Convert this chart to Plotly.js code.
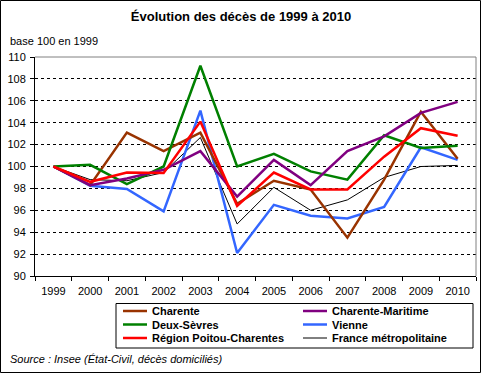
<!DOCTYPE html>
<html><head><meta charset="utf-8">
<script src="https://cdn.plot.ly/plotly-3.0.1.min.js"></script>
<style>body{margin:0;padding:0;background:#fff}#chart{width:481px;height:373px}</style>
</head><body><div id="chart"></div>
<script>
var years = ['1999','2000','2001','2002','2003','2004','2005','2006','2007','2008','2009','2010'];
var charente =        [100, 98.3, 103.1, 101.4, 103.1, 96.6, 98.7, 97.9, 93.5, 98.8, 105.0, 100.7];
var charenteMaritime = [100, 98.3, 98.9, 99.7, 101.4, 97.25, 100.6, 98.3, 101.4, 102.75, 104.9, 105.9];
var deuxSevres =      [100, 100.15, 98.4, 100.0, 109.2, 100.0, 101.15, 99.55, 98.8, 102.85, 101.7, 101.9];
var vienne =          [100, 98.25, 97.95, 95.9, 105.1, 92.1, 96.5, 95.5, 95.25, 96.3, 101.75, 100.6];
var region =          [100, 98.6, 99.45, 99.4, 104.1, 96.4, 99.45, 97.9, 97.9, 100.9, 103.5, 102.8];
var france =          [100, 98.8, 98.7, 99.45, 102.65, 94.75, 98.1, 96.0, 96.95, 99.0, 100.0, 100.1];

var seriesNames = ['Charente','Charente-Maritime','Deux-Sèvres','Vienne','Région Poitou-Charentes','France métropolitaine'];
var seriesValues = [charente, charenteMaritime, deuxSevres, vienne, region, france];
var seriesColors = ['#993300','#800080','#008000','#3366FF','#FF0000','#000000'];
var seriesWidths = [2.5, 2.5, 2.5, 2.5, 2.5, 1];

var W = 481, H = 373, L = 35, R = 5, T = 57, B = 97;
var PW = W - L - R, PH = H - T - B;
function px(x){ return (x - L) / PW; }
function py(y){ return (H - B - y) / PH; }

var drawOrder = [5, 3, 0, 2, 1, 4];
var traces = drawOrder.map(function(i){
  return {x: years, y: seriesValues[i], type: 'scatter', mode: 'lines', name: seriesNames[i],
    line: {color: seriesColors[i], width: seriesWidths[i]}, hoverinfo: 'x+y+name'};
});

var font = 'Arial, "Liberation Sans", sans-serif';
var shapes = [
  {type:'line', xref:'paper', yref:'paper', x0:0, x1:1, y0:1, y1:1, line:{color:'#808080', width:1}, layer:'above'},
  {type:'line', xref:'paper', yref:'paper', x0:1, x1:1, y0:0, y1:1, line:{color:'#808080', width:1}, layer:'above'},
  {type:'rect', xref:'paper', yref:'paper', x0:px(0.5), x1:px(480.5), y0:py(0.5), y1:py(372.5), line:{color:'#000', width:1}, layer:'above'},
  {type:'rect', xref:'paper', yref:'paper', x0:px(116), x1:px(473), y0:py(303.5), y1:py(348), line:{color:'#000', width:1}, layer:'above'}
];
var annotations = [
  {text:'base 100 en 1999', xref:'paper', yref:'paper', x:px(8), y:py(41), xanchor:'left', yanchor:'middle', showarrow:false, font:{family:font, size:11, color:'#000'}},
  {text:'<i>Source : Insee (État-Civil, décès domiciliés)</i>', xref:'paper', yref:'paper', x:px(8), y:py(359), xanchor:'left', yanchor:'middle', showarrow:false, font:{family:font, size:11, color:'#000'}}
];
var colX = [123, 303], rowY = [311, 324.5, 338];
seriesNames.forEach(function(n, i){
  var c = i % 2, r = Math.floor(i / 2);
  shapes.push({type:'line', xref:'paper', yref:'paper', x0:px(colX[c]), x1:px(colX[c]+24), y0:py(rowY[r]), y1:py(rowY[r]),
    line:{color:seriesColors[i], width:seriesWidths[i] > 1 ? 2.5 : 1}});
  annotations.push({text:'<b>' + n + '</b>', xref:'paper', yref:'paper', x:px(colX[c]+27), y:py(rowY[r]), xanchor:'left', yanchor:'middle',
    showarrow:false, font:{family:font, size:11, color:'#000'}});
});

var layout = {
  width: W, height: H,
  margin: {l: L, r: R, t: T, b: B, pad: 0},
  paper_bgcolor: '#fff', plot_bgcolor: '#fff',
  showlegend: false,
  font: {family: font, size: 11, color: '#000'},
  title: {text: '<b>Évolution des décès de 1999 à 2010</b>', x: 241/W, xanchor: 'center', xref: 'container',
    y: 1 - 16/H, yanchor: 'middle', yref: 'container', font: {family: font, size: 13, color: '#000'}},
  xaxis: {type: 'category', range: [-0.5, 11.5], tickson: 'boundaries', ticks: 'outside', ticklen: 4, tickcolor: '#000',
    showline: true, linecolor: '#000', linewidth: 1, showgrid: false, zeroline: false, fixedrange: true, ticklabelstandoff: 5,
    tickfont: {family: font, size: 11, color: '#000'}},
  yaxis: {range: [90, 110], dtick: 2, tick0: 90, ticks: 'outside', ticklen: 4, tickcolor: '#000',
    showline: true, linecolor: '#000', linewidth: 1, showgrid: true, gridcolor: '#000', gridwidth: 1, griddash: '3px,3px',
    zeroline: false, fixedrange: true, ticklabelstandoff: 2, tickfont: {family: font, size: 11, color: '#000'}},
  shapes: shapes,
  annotations: annotations
};
Plotly.newPlot('chart', traces, layout, {displayModeBar: false, staticPlot: true});
</script></body></html>
